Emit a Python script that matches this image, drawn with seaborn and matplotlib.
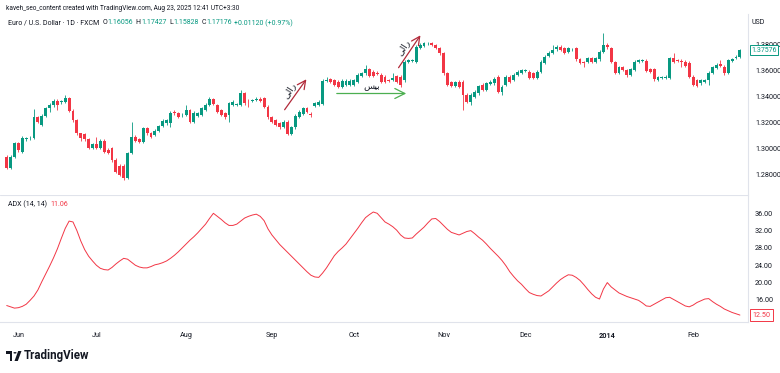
import numpy as np
import pandas as pd
import matplotlib
matplotlib.use("Agg")
import matplotlib.pyplot as plt
import seaborn as sns
from matplotlib.transforms import blended_transform_factory
from matplotlib.patches import Rectangle, Circle, Polygon

# ---------------- data ----------------
opens = [1.2937,1.2847,1.2937,1.3040,1.2976,1.3071,1.3078,1.3078,1.3240,1.3181,1.3250,1.3309,1.3335,1.3368,1.3358,1.3360,1.3386,1.3291,1.3219,1.3117,
         1.3112,1.3071,1.3001,1.3035,1.3001,1.3060,1.2985,1.3001,1.2911,1.2865,1.2865,1.2770,1.2963,1.3091,1.3071,1.3053,1.3155,1.3117,1.3104,1.3137,
         1.3173,1.3194,1.3194,1.3283,1.3271,1.3255,1.3258,1.3296,1.3206,1.3250,1.3258,1.3296,1.3335,1.3378,1.3335,1.3296,1.3271,1.3258,1.3335,1.3335,
         1.3335,1.3424,1.3368,1.3365,1.3373,1.3384,1.3386,1.3322,1.3240,1.3219,1.3194,1.3168,1.3206,1.3112,1.3163,1.3245,1.3265,1.3309,1.3265,1.3327,
         1.3335,1.3342,1.3522,1.3532,1.3527,1.3514,1.3476,1.3489,1.3489,1.3489,1.3514,1.3557,1.3578,1.3609,1.3590,1.3578,1.3565,1.3552,1.3527,1.3527,
         1.3558,1.3552,1.3527,1.3668,1.3673,1.3668,1.3770,1.3788,1.3801,1.3809,1.3796,1.3770,1.3732,1.3578,1.3514,1.3481,1.3514,1.3514,1.3411,1.3360,
         1.3399,1.3424,1.3488,1.3450,1.3496,1.3501,1.3552,1.3437,1.3488,1.3552,1.3527,1.3565,1.3583,1.3596,1.3591,1.3578,1.3540,1.3591,1.3660,1.3711,
         1.3737,1.3763,1.3783,1.3770,1.3745,1.3755,1.3770,1.3686,1.3665,1.3663,1.3694,1.3668,1.3686,1.3745,1.3796,1.3770,1.3668,1.3583,1.3624,1.3604,
         1.3565,1.3604,1.3663,1.3673,1.3676,1.3609,1.3609,1.3527,1.3542,1.3540,1.3540,1.3694,1.3678,1.3671,1.3668,1.3660,1.3552,1.3527,1.3501,1.3514,
         1.3527,1.3583,1.3617,1.3647,1.3629,1.3583,1.3676,1.3696,1.3706]
highs = [1.2950,1.2950,1.3053,1.3053,1.3096,1.3091,1.3094,1.3301,1.3250,1.3266,1.3322,1.3347,1.3378,1.3378,1.3373,1.3412,1.3394,1.3301,1.3229,1.3122,
         1.3122,1.3081,1.3045,1.3091,1.3071,1.3071,1.3001,1.3014,1.2924,1.2881,1.2881,1.2976,1.3206,1.3104,1.3078,1.3168,1.3163,1.3127,1.3148,1.3183,
         1.3229,1.3229,1.3291,1.3296,1.3283,1.3271,1.3335,1.3306,1.3286,1.3281,1.3322,1.3347,1.3394,1.3388,1.3340,1.3306,1.3281,1.3358,1.3373,1.3353,
         1.3450,1.3435,1.3384,1.3384,1.3394,1.3394,1.3394,1.3332,1.3250,1.3229,1.3204,1.3219,1.3219,1.3173,1.3266,1.3296,1.3322,1.3322,1.3283,1.3358,
         1.3373,1.3532,1.3547,1.3542,1.3537,1.3527,1.3532,1.3532,1.3537,1.3537,1.3578,1.3590,1.3640,1.3619,1.3604,1.3599,1.3578,1.3563,1.3537,1.3578,
         1.3568,1.3563,1.3681,1.3691,1.3691,1.3794,1.3809,1.3819,1.3822,1.3819,1.3804,1.3778,1.3742,1.3588,1.3522,1.3522,1.3527,1.3527,1.3424,1.3424,
         1.3450,1.3491,1.3501,1.3511,1.3527,1.3552,1.3565,1.3486,1.3565,1.3563,1.3578,1.3604,1.3614,1.3614,1.3604,1.3588,1.3604,1.3681,1.3717,1.3747,
         1.3796,1.3794,1.3794,1.3778,1.3783,1.3773,1.3783,1.3696,1.3676,1.3707,1.3707,1.3707,1.3758,1.3891,1.3809,1.3783,1.3676,1.3635,1.3635,1.3614,
         1.3619,1.3681,1.3691,1.3691,1.3686,1.3619,1.3619,1.3558,1.3558,1.3563,1.3707,1.3732,1.3691,1.3691,1.3681,1.3670,1.3563,1.3537,1.3537,1.3537,
         1.3594,1.3635,1.3655,1.3681,1.3640,1.3691,1.3696,1.3717,1.3763]
lows = [1.2840,1.2840,1.2924,1.2976,1.2963,1.3060,1.3068,1.3071,1.3199,1.3173,1.3245,1.3283,1.3322,1.3296,1.3342,1.3353,1.3283,1.3206,1.3107,1.3060,
        1.3060,1.2994,1.2994,1.2994,1.2994,1.2968,1.2960,1.2899,1.2814,1.2789,1.2758,1.2763,1.2958,1.3053,1.3040,1.3045,1.3107,1.3081,1.3096,1.3127,
        1.3163,1.3183,1.3168,1.3260,1.3235,1.3245,1.3250,1.3194,1.3199,1.3240,1.3250,1.3286,1.3327,1.3332,1.3276,1.3250,1.3229,1.3206,1.3327,1.3327,
        1.3327,1.3337,1.3322,1.3358,1.3363,1.3358,1.3312,1.3229,1.3199,1.3173,1.3153,1.3158,1.3101,1.3101,1.3153,1.3235,1.3255,1.3276,1.3240,1.3317,
        1.3327,1.3335,1.3512,1.3506,1.3481,1.3465,1.3465,1.3481,1.3481,1.3481,1.3506,1.3547,1.3568,1.3547,1.3547,1.3563,1.3507,1.3507,1.3512,1.3517,
        1.3507,1.3476,1.3514,1.3660,1.3666,1.3660,1.3763,1.3778,1.3794,1.3788,1.3763,1.3722,1.3568,1.3481,1.3471,1.3471,1.3466,1.3296,1.3348,1.3335,
        1.3388,1.3414,1.3440,1.3440,1.3486,1.3491,1.3424,1.3411,1.3481,1.3507,1.3517,1.3558,1.3573,1.3588,1.3532,1.3532,1.3532,1.3583,1.3650,1.3701,
        1.3727,1.3753,1.3747,1.3727,1.3737,1.3747,1.3676,1.3650,1.3629,1.3655,1.3660,1.3660,1.3676,1.3737,1.3768,1.3660,1.3573,1.3573,1.3594,1.3552,
        1.3558,1.3594,1.3655,1.3666,1.3588,1.3583,1.3522,1.3517,1.3532,1.3532,1.3532,1.3660,1.3666,1.3629,1.3624,1.3542,1.3481,1.3471,1.3491,1.3507,
        1.3488,1.3573,1.3609,1.3624,1.3568,1.3573,1.3668,1.3686,1.3696]
closes = [1.2847,1.2937,1.3040,1.2988,1.3078,1.3081,1.3084,1.3240,1.3206,1.3250,1.3309,1.3335,1.3368,1.3335,1.3363,1.3386,1.3291,1.3219,1.3117,1.3084,
          1.3071,1.3001,1.3035,1.3001,1.3060,1.2976,1.2968,1.2911,1.2822,1.2796,1.2770,1.2963,1.3091,1.3060,1.3053,1.3155,1.3117,1.3091,1.3137,1.3173,
          1.3214,1.3219,1.3276,1.3271,1.3245,1.3260,1.3296,1.3206,1.3276,1.3271,1.3309,1.3335,1.3378,1.3342,1.3283,1.3258,1.3240,1.3347,1.3360,1.3340,
          1.3424,1.3347,1.3363,1.3373,1.3384,1.3368,1.3322,1.3240,1.3206,1.3181,1.3163,1.3206,1.3112,1.3163,1.3250,1.3283,1.3309,1.3283,1.3258,1.3347,
          1.3360,1.3522,1.3527,1.3514,1.3489,1.3476,1.3522,1.3522,1.3522,1.3527,1.3565,1.3578,1.3609,1.3557,1.3557,1.3573,1.3514,1.3514,1.3522,1.3540,
          1.3514,1.3489,1.3668,1.3681,1.3678,1.3783,1.3796,1.3809,1.3806,1.3796,1.3770,1.3732,1.3578,1.3489,1.3481,1.3514,1.3476,1.3411,1.3360,1.3411,
          1.3437,1.3481,1.3450,1.3501,1.3514,1.3532,1.3437,1.3476,1.3552,1.3514,1.3565,1.3591,1.3604,1.3601,1.3540,1.3540,1.3591,1.3668,1.3706,1.3737,
          1.3758,1.3783,1.3758,1.3737,1.3770,1.3760,1.3686,1.3660,1.3660,1.3694,1.3668,1.3694,1.3745,1.3796,1.3778,1.3668,1.3583,1.3624,1.3604,1.3565,
          1.3609,1.3668,1.3681,1.3678,1.3599,1.3591,1.3532,1.3547,1.3547,1.3552,1.3694,1.3668,1.3673,1.3665,1.3635,1.3552,1.3488,1.3481,1.3527,1.3527,
          1.3583,1.3624,1.3642,1.3635,1.3578,1.3681,1.3686,1.3706,1.3758]
adx = [14.7,14.4,14.1,14.2,14.5,15.0,15.9,16.9,18.3,20.2,22.0,23.8,25.7,27.8,30.2,32.5,34.2,34.0,32.0,29.6,
       27.6,26.1,25.0,24.0,23.3,23.0,22.9,23.5,24.3,25.0,25.6,25.4,24.7,24.0,23.6,23.4,23.4,23.7,24.1,24.3,
       24.6,25.0,25.6,26.3,27.1,28.0,28.9,29.8,30.6,31.5,32.5,33.5,34.8,36.0,35.3,34.6,33.8,33.2,33.2,33.5,
       34.2,34.9,35.3,35.6,35.8,35.3,34.3,32.4,31.0,29.9,28.8,27.9,27.0,26.1,25.2,24.3,23.4,22.5,21.7,21.3,
       21.2,22.2,23.4,24.8,26.2,27.2,28.0,28.9,30.1,31.3,32.5,33.8,35.0,35.7,36.3,36.0,35.0,34.0,33.5,32.9,
       32.1,31.0,30.3,30.2,30.3,31.2,32.0,32.8,33.8,34.7,34.8,34.1,33.2,32.3,31.6,31.3,31.0,31.4,31.8,32.0,
       31.3,30.5,29.8,28.9,27.9,27.0,26.1,25.1,23.9,22.5,21.4,20.4,19.6,18.6,17.7,17.3,17.0,16.9,17.5,18.1,
       19.0,19.9,20.7,21.3,21.8,21.7,21.2,20.5,19.5,18.4,17.4,16.6,16.2,18.5,20.0,19.0,18.3,17.6,17.2,16.8,
       16.5,16.2,15.9,15.3,14.6,14.5,15.0,15.5,16.0,16.5,16.6,16.1,15.6,15.1,14.6,14.4,14.8,15.4,15.8,16.2,
       16.3,15.6,15.0,14.5,13.9,13.5,13.1,12.8,12.5]

price_ticks = [1.28, 1.30, 1.32, 1.34, 1.36, 1.38]
adx_ticks = [16, 20, 24, 28, 32, 36]
last_price = 1.37576
last_adx = 12.50

# trading days (FXCM daily bars, Christmas and New Year closed)
dates = pd.bdate_range("2013-05-29", "2014-02-19")
dates = dates.drop([pd.Timestamp("2013-12-25"), pd.Timestamp("2014-01-01")])
n = min(len(dates), len(closes))
df = pd.DataFrame({"i": np.arange(n), "date": dates[:n], "open": opens[:n], "high": highs[:n],
                   "low": lows[:n], "close": closes[:n], "adx": adx[:n]})

# ---------------- styling ----------------
sns.set_theme(style="white")
plt.rcParams["font.family"] = ["Roboto", "DejaVu Sans"]
GREEN = "#089981"
RED = "#f23645"
TXT = "#131722"
GRID = "#e0e3eb"

W, H = 780, 373
fig = plt.figure(figsize=(W / 100, H / 100), dpi=100)
fig.patch.set_facecolor("white")

def fx(px):
    return px / W

def fy(py):
    return 1 - py / H

AX_RIGHT = 748
ax_p = fig.add_axes([0, fy(195), fx(AX_RIGHT), (195 - 14) / H])
ax_a = fig.add_axes([0, fy(322), fx(AX_RIGHT), (322 - 195) / H])

XMIN = -6.7 / 3.9
XMAX = (AX_RIGHT - 6.7) / 3.9

# ---------------- candles ----------------
up = df["close"] >= df["open"]
cols = np.where(up, GREEN, RED)
body_lo = np.minimum(df["open"], df["close"])
body_h = np.maximum(np.abs(df["close"] - df["open"]), 0.00025)
ax_p.vlines(df["i"], df["low"], df["high"], colors=cols, linewidth=0.6, zorder=2)
ax_p.bar(df["i"], body_h, bottom=body_lo, width=0.72, color=cols, linewidth=0, zorder=3)
ax_p.set_xlim(XMIN, XMAX)
ax_p.set_ylim(1.38 - (195 - 44.5) / 1300, 1.38 + (44.5 - 14) / 1300)

ax_p.yaxis.tick_right()
ax_p.set_yticks(price_ticks)
ax_p.set_yticklabels([f"{v:.5f}" for v in price_ticks])
ax_p.tick_params(axis="y", length=0, pad=5, labelsize=5.2, labelcolor=TXT)
ax_p.set_xticks([])
for s in ["top", "left", "bottom"]:
    ax_p.spines[s].set_visible(False)
ax_p.spines["right"].set_color(GRID)
ax_p.spines["right"].set_linewidth(0.8)

# last price tag
tr_p = blended_transform_factory(ax_p.transAxes, ax_p.transData)
ax_p.text(1.004, last_price, f"{last_price:.5f}", transform=tr_p, fontsize=5.0, color=GREEN,
          va="center", ha="left", zorder=10,
          bbox=dict(boxstyle="square,pad=0.15", fc="white", ec=GREEN, lw=0.7))

# annotations: rally / base
def px2d(px, py):
    return (px - 6.7) / 3.9, 1.38 - (py - 44.5) / 1300

DARKRED = "#b22a3a"
ax_p.annotate("", xy=px2d(308, 77), xytext=px2d(283, 112),
              arrowprops=dict(arrowstyle="->,head_length=0.5,head_width=0.25", color=DARKRED, lw=0.9))
ax_p.annotate("", xy=px2d(422, 33), xytext=px2d(397, 70),
              arrowprops=dict(arrowstyle="->,head_length=0.5,head_width=0.25", color=DARKRED, lw=0.9))
ax_p.annotate("", xy=px2d(409, 93.5), xytext=px2d(334, 93.5),
              arrowprops=dict(arrowstyle="->,head_length=0.6,head_width=0.3", color="#4caf50", lw=0.9))
rally = "\uFEF0\uFEDF\uFE8D\uFEAD"   # رالی (shaped)
base = "\uFEB2\uFEF4\uFE91"          # بیس (shaped)
x1, y1 = px2d(289, 90)
ax_p.text(x1, y1, rally, rotation=58, fontsize=6.5, color=TXT, ha="center", va="center",
          family=["DejaVu Sans"])
x2, y2 = px2d(403, 47)
ax_p.text(x2, y2, rally, rotation=58, fontsize=6.5, color=TXT, ha="center", va="center",
          family=["DejaVu Sans"])
x3, y3 = px2d(372, 87)
ax_p.text(x3, y3, base, fontsize=6.5, color=TXT, ha="center", va="center", family=["DejaVu Sans"])

# ---------------- ADX ----------------
sns.lineplot(data=df, x="i", y="adx", ax=ax_a, color=RED, linewidth=0.7, legend=False)
ax_a.set_xlim(XMIN, XMAX)
ax_a.set_ylim(36 - (322 - 213.3) / 4.33, 36 + (213.3 - 195) / 4.33)
ax_a.set_xlabel("")
ax_a.set_ylabel("")
ax_a.yaxis.tick_right()
ax_a.set_yticks(adx_ticks)
ax_a.set_yticklabels([f"{v:.2f}" for v in adx_ticks])
ax_a.tick_params(axis="y", length=0, pad=5, labelsize=5.2, labelcolor=TXT)

# month ticks
tick_idx, tick_lab = [], []
for k in range(1, n):
    if df["date"].iloc[k].month != df["date"].iloc[k - 1].month:
        d = df["date"].iloc[k]
        tick_idx.append(k)
        tick_lab.append(str(d.year) if d.month == 1 else d.strftime("%b"))
ax_a.set_xticks(tick_idx)
ax_a.set_xticklabels(tick_lab)
ax_a.tick_params(axis="x", length=0, pad=7, labelsize=5.2, labelcolor=TXT)
for lab in ax_a.get_xticklabels():
    if lab.get_text().isdigit():
        lab.set_fontweight("bold")
for s in ["left", "top"]:
    ax_a.spines[s].set_visible(False)
for s in ["right", "bottom"]:
    ax_a.spines[s].set_color(GRID)
    ax_a.spines[s].set_linewidth(0.8)
ax_a.axhline(ax_a.get_ylim()[1], color=GRID, lw=0.8)

tr_a = blended_transform_factory(ax_a.transAxes, ax_a.transData)
ax_a.text(1.006, last_adx, f"{last_adx:.2f}", transform=tr_a, fontsize=5.2, color=RED,
          va="center", ha="left",
          bbox=dict(boxstyle="square,pad=0.3", fc="white", ec=RED, lw=0.7))

# ---------------- header texts ----------------
fig.canvas.draw()
rend = fig.canvas.get_renderer()

def segments(x_px, y_px, segs, size, weight="normal"):
    x = x_px
    for s, col, gap in segs:
        t = fig.text(fx(x), fy(y_px), s, color=col, fontsize=size, va="center", ha="left", weight=weight)
        bb = t.get_window_extent(renderer=rend)
        x += bb.width + gap

fig.text(fx(6), fy(8), "kaveh_seo_content created with TradingView.com, Aug 23, 2025 12:41 UTC+3:30",
         fontsize=4.7, color=TXT, va="center", ha="left")
segments(8, 23, [("Euro / U.S. Dollar \u00b7 1D \u00b7 FXCM", TXT, 3),
                 ("O", TXT, 0.5), ("1.16056", GREEN, 2.5),
                 ("H", TXT, 0.5), ("1.17427", GREEN, 2.5),
                 ("L", TXT, 0.5), ("1.15828", GREEN, 2.5),
                 ("C", TXT, 0.5), ("1.17176", GREEN, 2.5),
                 ("+0.01120 (+0.97%)", GREEN, 0)], 5.0)
fig.text(fx(752), fy(23), "USD", fontsize=5.0, color=TXT, va="center", ha="left")
segments(8, 204, [("ADX (14, 14)", TXT, 3), ("11.06", RED, 0)], 5.0)

# TradingView logo
fig.patches.append(Rectangle((fx(6), fy(354)), fx(6.5) - fx(0), fy(351) - fy(354),
                             transform=fig.transFigure, color=TXT, lw=0))
fig.patches.append(Rectangle((fx(9.5), fy(361)), fx(3), fy(354) - fy(361),
                             transform=fig.transFigure, color=TXT, lw=0))
fig.patches.append(Circle((fx(15.0), fy(352.8)), 1.6 / W, transform=fig.transFigure, color=TXT, lw=0))
fig.patches.append(Polygon([(fx(14.5), fy(361)), (fx(18.2), fy(351)), (fx(21.5), fy(351)), (fx(17.8), fy(361))],
                           closed=True, transform=fig.transFigure, color=TXT, lw=0))
fig.text(fx(24), fy(356), "TradingView", fontsize=8.3, color=TXT, weight="bold", va="center", ha="left")

fig.savefig("out.png", dpi=100, facecolor="white")
